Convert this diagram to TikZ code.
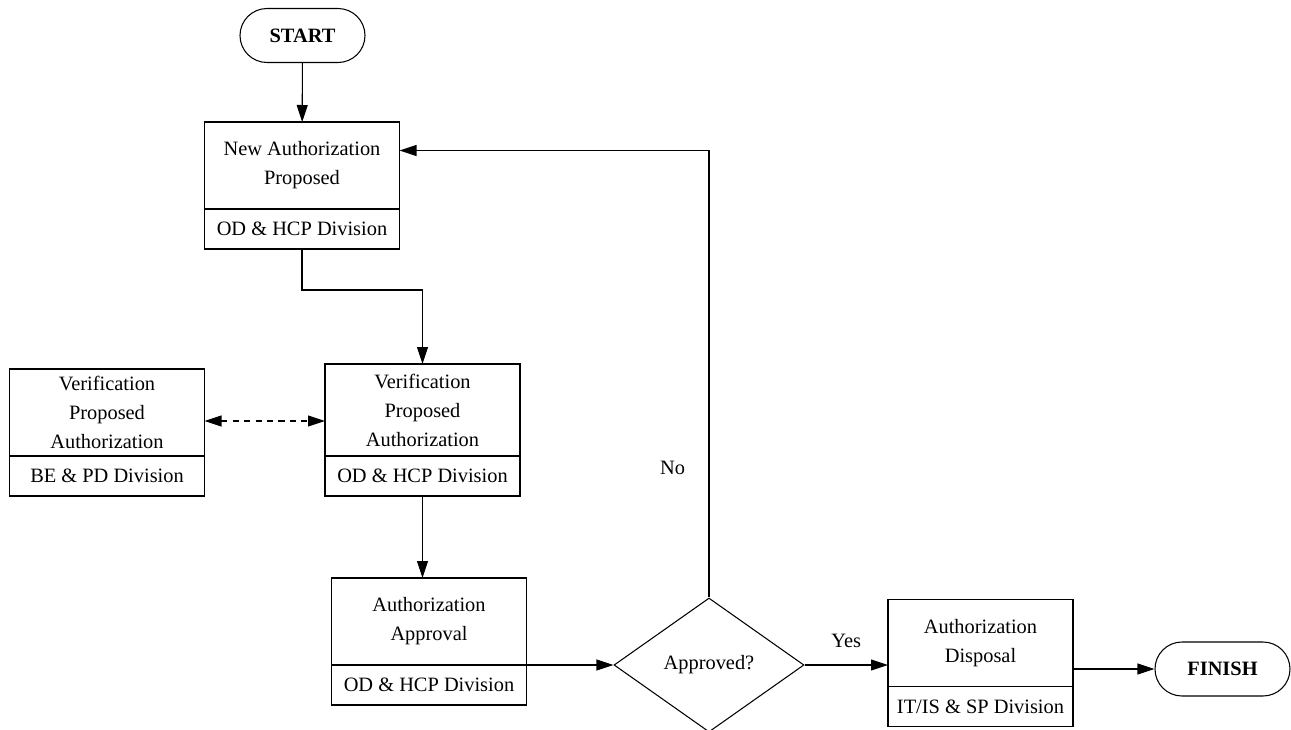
\documentclass[tikz,border=0pt]{standalone}
\usepackage{fontspec}
\setmainfont{Liberation Serif}
\usetikzlibrary{positioning,shapes.geometric,arrows.meta}
\tikzset{%
  upper/.style={draw,semithick,align=center,minimum width=3.9cm,minimum height=1.74cm,inner sep=2pt,outer sep=0pt},
  lower/.style={draw,semithick,minimum width=3.9cm,minimum height=0.8cm,inner sep=2pt,outer sep=0pt},
  term/.style={draw,semithick,rounded corners=0.54cm,minimum width=2.5cm,minimum height=1.08cm,font=\fontsize{11.6}{14}\selectfont\bfseries},
  decide/.style={draw,semithick,diamond,minimum width=3.8cm,minimum height=2.68cm,inner sep=0pt},
  tip/.style={-{Triangle[length=0.34cm,width=0.22cm]}},
  flow/.style={semithick,tip}
}

\begin{document}
\begin{tikzpicture}[font=\fontsize{11.6}{16.5}\selectfont]%
  \useasboundingbox (0,0) rectangle (25.82,-14.6);
  % terminals
  \node [term] (start)  at (6.05,-0.71)  {START};
  \node [term,minimum width=2.7cm] (finish) at (24.45,-13.38) {FINISH};
  % process boxes
  \node [upper] (newauth) at (6.04,-3.31) {New Authorization\\Proposed};
  \node [lower,below=0pt of newauth] (newdiv) {OD \& HCP Division};
  \node [upper] (verbe) at (2.14,-8.25) {Verification\\Proposed\\Authorization};
  \node [lower,below=0pt of verbe] (verbediv) {BE \& PD Division};
  \node [upper,minimum height=1.84cm] (verif) at (8.45,-8.2) {Verification\\Proposed\\Authorization};
  \node [lower,below=0pt of verif] (verifdiv) {OD \& HCP Division};
  \node [upper] (appr) at (8.58,-12.43) {Authorization\\Approval};
  \node [lower,below=0pt of appr] (apprdiv) {OD \& HCP Division};
  \node [decide] (approved) at (14.18,-13.3) {Approved?};
  \node [upper,minimum width=3.7cm] (disp) at (19.61,-12.86) {Authorization\\Disposal};
  \node [lower,minimum width=3.7cm,below=0pt of disp] (dispdiv) {IT/IS \& SP Division};
  % connectors
  \draw [flow] (start) -- (newauth);
  \draw [flow] (newdiv.south) -- ++(0,-0.82) -| (verif.north);
  \draw [semithick,dashed,dash pattern=on 3.5pt off 3pt,{Triangle[length=0.34cm,width=0.22cm]}-{Triangle[length=0.34cm,width=0.22cm]}]
    ([yshift=-0.22cm]verif.west -| verbe.east) -- ([yshift=-0.22cm]verif.west);
  \draw [flow] (verifdiv.south) -- (verifdiv.south |- appr.north);
  \draw [flow] (appr.east |- approved.west) -- (approved.west);
  \draw [flow] (approved.east) -- node [above=0.22cm] {Yes} (approved.east -| disp.west);
  \draw [flow] (disp.east |- finish.west) -- (finish.west);
  \draw [flow] (approved.north) |- node [pos=0.145,left=0.35cm] {No} ([yshift=0.3cm]newauth.east);
\end{tikzpicture}
\end{document}
